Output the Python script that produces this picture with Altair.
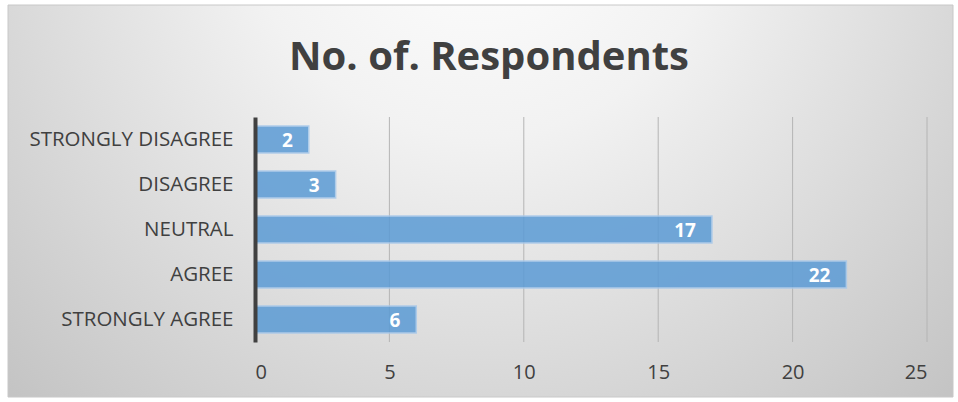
import altair as alt
import pandas as pd

categories = ["STRONGLY DISAGREE", "DISAGREE", "NEUTRAL", "AGREE", "STRONGLY AGREE"]
respondents = [2, 3, 17, 22, 6]
x_ticks = [0, 5, 10, 15, 20, 25]

df = pd.DataFrame({"category": categories, "value": respondents})
grid_df = pd.DataFrame({"tick": x_ticks[1:]})

FONT = "Open Sans"
TEXT = "#404040"

x_scale = alt.Scale(domain=[0, 25], nice=False, zero=True)
y_sort = categories

bg = alt.Chart(alt.Data(values=[{}])).mark_rect(
    color=alt.Gradient(
        gradient="radial",
        stops=[alt.GradientStop(color="#ffffff", offset=0),
               alt.GradientStop(color="#f2f2f2", offset=0.35),
               alt.GradientStop(color="#c4c4c4", offset=1)],
        x1=0.5, y1=0.18, r1=0.0,
        x2=0.5, y2=0.18, r2=0.72,
    ),
    stroke="#c8c8c8", strokeWidth=1,
).encode(
    x=alt.value(-247), x2=alt.value(698),
    y=alt.value(-112), y2=alt.value(280),
)

grid = alt.Chart(grid_df).mark_rule(color="#b4b4b4", strokeWidth=1).encode(
    x=alt.X("tick:Q", scale=x_scale),
    y=alt.value(0), y2=alt.value(225),
)

bars = alt.Chart(df).mark_bar(
    color="#5b9bd5", opacity=0.85, stroke="#a6c8ea", strokeWidth=1.5
).encode(
    x=alt.X("value:Q", scale=x_scale,
            axis=alt.Axis(values=x_ticks, grid=False, domain=False, ticks=False,
                          labelFont=FONT, labelFontSize=20, labelColor=TEXT,
                          labelPadding=20, zindex=1, title=None)),
    y=alt.Y("category:N", sort=y_sort,
            scale=alt.Scale(paddingInner=0.4, paddingOuter=0.2),
            axis=alt.Axis(domain=True, domainColor="#404040", domainWidth=4,
                          ticks=False, grid=False, labelFont=FONT,
                          labelFontSize=20.5, labelColor=TEXT, labelPadding=22,
                          labelLimit=400, zindex=1, title=None)),
)

labels = alt.Chart(df).mark_text(
    align="right", baseline="middle", dx=-16, dy=1,
    font=FONT, fontSize=19, fontWeight="bold", color="white"
).encode(
    x=alt.X("value:Q", scale=x_scale),
    y=alt.Y("category:N", sort=y_sort),
    text="value:Q",
)

chart = alt.layer(bg, grid, bars, labels).properties(
    width=672, height=225,
    autosize=alt.AutoSizeParams(type="none"),
    padding={"left": 255, "top": 117, "right": 31, "bottom": 60},
    title=alt.TitleParams(
        "No. of. Respondents", font=FONT, fontSize=40, fontWeight="bold",
        color=TEXT, anchor="middle", frame="group", baseline="alphabetic",
        dx=-102, offset=-105,
    ),
).configure_view(stroke=None).configure(background="white")

chart.save("out.html", embed_options={"renderer": "svg", "actions": False})
